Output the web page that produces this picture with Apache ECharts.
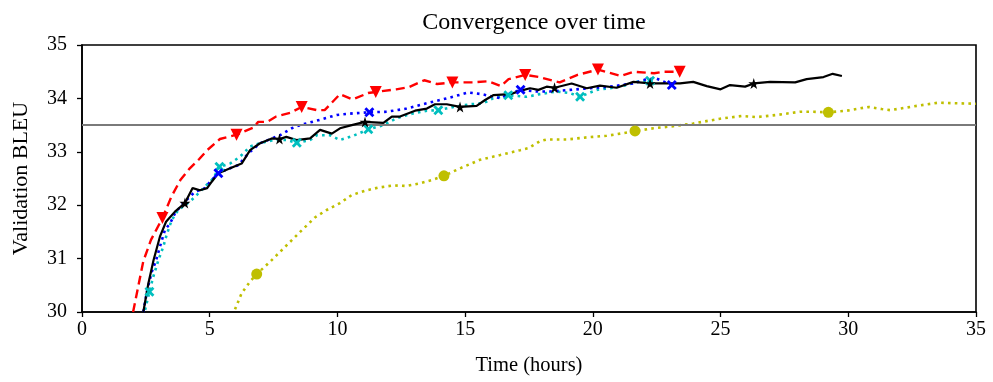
<!DOCTYPE html>
<html>
<head>
<meta charset="utf-8">
<script src="https://cdn.jsdelivr.net/npm/echarts@6/dist/echarts.min.js"></script>
<style>html,body{margin:0;padding:0;background:#fff}#c{width:993px;height:382px}</style>
</head>
<body>
<div id="c"></div>
<script>
// ---- data (hours, BLEU) ----
const redLine = [[2.0,30.0],[2.4,30.95],[2.7,31.35],[3.15,31.76],[3.5,32.16],[3.85,32.47],[4.2,32.68],[4.6,32.87],[4.9,33.03],[5.4,33.24],[6.05,33.32],[6.7,33.45],[6.9,33.56],[7.25,33.56],[7.6,33.66],[8.15,33.73],[8.6,33.84],[9.2,33.78],[9.5,33.78],[10.1,34.08],[10.6,33.98],[11.2,34.1],[11.5,34.12],[12.3,34.17],[12.8,34.21],[13.4,34.34],[13.9,34.27],[14.5,34.3],[15.3,34.3],[15.9,34.32],[16.4,34.23],[16.7,34.36],[17.35,34.44],[17.9,34.4],[18.7,34.3],[19.4,34.44],[20.2,34.54],[21.1,34.42],[21.6,34.5],[22.4,34.47],[22.75,34.5],[23.4,34.5]];
const redMarks = [[3.15,31.76],[6.05,33.32],[8.6,33.84],[11.5,34.12],[14.5,34.3],[17.35,34.44],[20.2,34.54],[23.4,34.5]];

const blackLine = [[2.4,30.0],[2.6,30.54],[2.8,30.97],[3.05,31.41],[3.29,31.69],[3.64,31.88],[4.03,32.04],[4.33,32.32],[4.62,32.28],[4.9,32.32],[5.08,32.44],[5.34,32.6],[5.8,32.69],[6.25,32.78],[6.58,33.03],[6.97,33.16],[7.43,33.25],[7.73,33.24],[8.0,33.28],[8.4,33.22],[8.93,33.25],[9.32,33.41],[9.78,33.34],[10.1,33.44],[10.56,33.5],[11.08,33.56],[11.8,33.54],[12.13,33.66],[12.45,33.66],[13.04,33.77],[13.5,33.81],[13.82,33.89],[14.28,33.89],[14.8,33.84],[15.45,33.86],[15.78,33.97],[16.1,34.06],[16.76,34.08],[17.15,34.14],[17.54,34.19],[17.87,34.16],[18.19,34.22],[18.5,34.2],[19.17,34.28],[19.76,34.19],[20.28,34.24],[20.93,34.2],[21.59,34.31],[22.24,34.28],[23.0,34.28],[23.41,34.28],[23.93,34.31],[24.46,34.23],[25.0,34.17],[25.37,34.25],[25.96,34.22],[26.3,34.28],[26.94,34.31],[27.92,34.3],[28.37,34.36],[29.03,34.4],[29.39,34.46],[29.75,34.42]];
const blackMarks = [[4.03,32.04],[7.73,33.24],[11.08,33.56],[14.8,33.84],[18.5,34.2],[22.24,34.28],[26.3,34.28]];

const blueLine = [[2.4,30.0],[2.55,30.4],[2.73,30.75],[2.9,30.97],[3.05,31.22],[3.25,31.54],[3.45,31.66],[3.64,31.85],[3.9,32.0],[4.16,32.13],[4.42,32.25],[4.82,32.32],[5.01,32.44],[5.34,32.6],[5.67,32.67],[6.12,32.75],[6.51,32.97],[6.97,33.16],[7.75,33.31],[8.21,33.44],[8.54,33.5],[9.32,33.6],[9.97,33.69],[10.62,33.72],[11.25,33.74],[11.93,33.75],[12.71,33.81],[13.5,33.91],[14.28,34.0],[15.12,34.11],[15.65,34.08],[16.1,34.03],[16.4,34.0],[16.76,34.1],[17.17,34.16],[17.8,34.13],[18.32,34.13],[19.1,34.16],[20.67,34.22],[21.57,34.28],[22.1,34.36],[22.5,34.37],[23.09,34.25]];
const blueMarks = [[5.34,32.6],[11.25,33.74],[17.17,34.16],[23.09,34.25]];

const cyanLine = [[2.47,30.04],[2.64,30.38],[2.79,30.66],[2.99,30.97],[3.18,31.22],[3.31,31.44],[3.51,31.72],[3.77,31.91],[4.03,32.0],[4.23,32.07],[4.49,32.19],[4.88,32.38],[5.14,32.5],[5.38,32.72],[5.8,32.78],[6.19,32.91],[6.58,33.1],[6.97,33.16],[7.49,33.22],[8.01,33.22],[8.41,33.17],[8.93,33.22],[9.19,33.31],[9.71,33.31],[10.1,33.22],[10.62,33.3],[11.21,33.42],[11.8,33.5],[12.32,33.63],[12.97,33.72],[13.5,33.77],[13.95,33.78],[14.54,33.84],[15.19,33.89],[15.71,33.91],[16.1,34.0],[16.69,34.06],[17.41,34.03],[17.93,34.08],[18.58,34.13],[19.1,34.1],[19.5,34.03],[20.15,34.16],[20.67,34.19],[21.32,34.25],[21.71,34.31],[22.24,34.33],[22.5,34.34]];
const cyanMarks = [[2.64,30.38],[5.38,32.72],[8.41,33.17],[11.21,33.42],[13.95,33.78],[16.69,34.06],[19.5,34.03],[22.24,34.33]];

const yellowLine = [[5.99,30.05],[6.25,30.35],[6.58,30.57],[6.84,30.71],[7.36,30.94],[7.95,31.22],[8.54,31.5],[9.12,31.77],[9.58,31.91],[10.1,32.04],[10.56,32.19],[11.08,32.27],[11.6,32.33],[12.19,32.37],[12.71,32.36],[13.23,32.41],[13.75,32.48],[14.17,32.55],[14.8,32.69],[15.58,32.85],[16.37,32.94],[17.15,33.03],[17.48,33.07],[17.93,33.2],[18.19,33.23],[18.98,33.23],[19.76,33.27],[20.54,33.3],[21.2,33.35],[21.65,33.39],[22.37,33.44],[23.15,33.48],[23.93,33.53],[24.98,33.62],[25.83,33.67],[26.42,33.65],[27.2,33.69],[28.11,33.75],[28.63,33.75],[29.22,33.74],[29.94,33.77],[30.79,33.84],[31.31,33.8],[31.64,33.78],[32.68,33.86],[33.53,33.92],[34.1,33.91],[35.0,33.9]];
const yellowMarks = [[6.84,30.71],[14.17,32.55],[21.65,33.39],[29.22,33.74]];

const refLevel = 33.5;
const xTicks = {min: 0, max: 35, step: 5};
const yTicks = {min: 30, max: 35, step: 1};
const titleText = 'Convergence over time';
const xName = 'Time (hours)';
const yName = 'Validation BLEU';

// ---- chart ----
const FONT = '"Liberation Serif", "Times New Roman", serif';
const xPath = 'path://M0,2L2,0L5,3L8,0L10,2L7,5L10,8L8,10L5,7L2,10L0,8L3,5Z';
const starPath = 'path://M50,0L61,35L98,35L68,57L79,91L50,70L21,91L32,57L2,35L39,35Z';

function lineSeries(data, color, width, type, z) {
  return {type: 'line', data: data, showSymbol: false, symbol: 'none', z: z,
    lineStyle: {color: color, width: width, type: type, cap: 'butt'}, animation: false, silent: true};
}
function markSeries(data, color, symbol, size, rotate, z) {
  return {type: 'scatter', data: data, symbol: symbol, symbolSize: size, symbolRotate: rotate || 0, z: z,
    itemStyle: {color: color, opacity: 1}, animation: false, silent: true};
}

const chart = echarts.init(document.getElementById('c'), null, {renderer: 'canvas'});
chart.setOption({
  backgroundColor: '#fff',
  animation: false,
  title: {text: titleText, left: 529, top: 6, textAlign: 'center',
    textStyle: {fontFamily: FONT, fontSize: 24, fontWeight: 'normal', color: '#000'}},
  grid: {left: 82, right: 17, top: 45, bottom: 70, show: true, borderColor: '#000', borderWidth: 1.6, backgroundColor: 'transparent'},
  xAxis: {type: 'value', min: xTicks.min, max: xTicks.max, interval: xTicks.step,
    name: xName, nameLocation: 'middle', nameGap: 43,
    nameTextStyle: {fontFamily: FONT, fontSize: 20.5, color: '#000'},
    axisLine: {show: true, onZero: false, lineStyle: {color: '#000', width: 1.6}},
    axisTick: {show: true, inside: false, length: 5, lineStyle: {color: '#000', width: 1.3}},
    axisLabel: {fontFamily: FONT, fontSize: 20, color: '#000', margin: 8},
    splitLine: {show: false}},
  yAxis: {type: 'value', min: yTicks.min, max: yTicks.max, interval: yTicks.step,
    name: yName, nameLocation: 'middle', nameGap: 50, nameRotate: 90,
    nameTextStyle: {fontFamily: FONT, fontSize: 22, color: '#000'},
    axisLine: {show: true, onZero: false, lineStyle: {color: '#000', width: 1.6}},
    axisTick: {show: true, inside: false, length: 5, lineStyle: {color: '#000', width: 1.3}},
    axisLabel: {fontFamily: FONT, fontSize: 20, color: '#000', margin: 15},
    splitLine: {show: false}},
  series: [
    Object.assign(lineSeries(yellowLine, '#bfbf00', 2.6, [2.6, 4.2], 2), {
      markLine: {silent: true, symbol: 'none', label: {show: false},
        lineStyle: {color: '#7a7a7a', width: 2, type: 'solid'}, data: [{yAxis: refLevel}]}}),
    lineSeries(cyanLine, '#00bfbf', 2.6, [2.6, 4.2], 3),
    lineSeries(blueLine, '#0000ff', 2.6, [2.6, 4.2], 4),
    lineSeries(blackLine, '#000000', 2.2, 'solid', 5),
    lineSeries(redLine, '#ff0000', 2.4, [9, 5], 6),
    markSeries(yellowMarks, '#bfbf00', 'circle', 11, 0, 7),
    markSeries(cyanMarks, '#00bfbf', xPath, 10, 0, 7),
    markSeries(blueMarks, '#0000ff', xPath, 10, 0, 8),
    markSeries(blackMarks, '#000000', starPath, 11, 0, 8),
    markSeries(redMarks, '#ff0000', 'triangle', 12, 180, 9)
  ]
});
</script>
</body>
</html>
